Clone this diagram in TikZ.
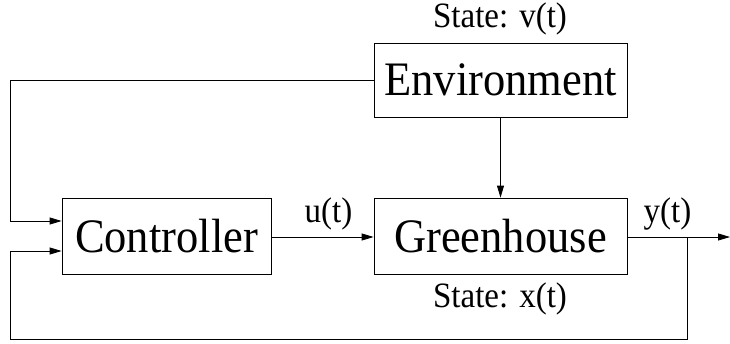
\documentclass[tikz,border=0pt]{standalone}
\usepackage{graphicx}
\usepackage{fontspec}
\setmainfont{Liberation Serif}
\usetikzlibrary{arrows.meta}
% slightly tall lettering
\newcommand{\tallbig}[1]{\scalebox{1}[1.08]{\fontsize{44.5}{44.5}\selectfont #1}}
\newcommand{\tallsig}[1]{\scalebox{1}[1.08]{\fontsize{33}{33}\selectfont #1}}
\begin{document}
\begin{tikzpicture}[x=1pt,y=-1pt,
  blockbox/.style={draw,line width=0.8pt,inner sep=0pt},
  wire/.style={line width=0.8pt},
  arr/.style={wire,-{Triangle[length=12pt,width=7pt]}},
  sig/.style={anchor=base,inner sep=0pt}]
\useasboundingbox (0,0) rectangle (730,343);
% blocks
\node[blockbox,minimum width=253pt,minimum height=74pt] (env) at (500.5,80) {\tallbig{Environment}};
\node[blockbox,minimum width=209pt,minimum height=76pt] (ctrl) at (166.5,236) {\tallbig{Controller}};
\node[blockbox,minimum width=253pt,minimum height=76pt] (gh) at (500.5,236) {\tallbig{Greenhouse}};
% labels
\node[sig] (vlab) at (500,27) {\tallsig{State: v(t)}};
\node[sig] (xlab) at (500,307) {\tallsig{State: x(t)}};
\node[sig] (ulab) at (328.5,222) {\tallsig{u(t)}};
\node[sig] (ylab) at (667.5,222) {\tallsig{y(t)}};
% helper points
\coordinate (out) at (730,237);
\coordinate (br) at (687,237);
\coordinate (envL) at (10,80);
\coordinate (fbL) at (10,339);
% connectors
\draw[arr] (env.south) -- (gh.north);
\draw[arr] (ctrl.east |- 0,237) -- (gh.west |- 0,237);
\draw[arr] (gh.east |- 0,237) -- (out);
\draw[arr] (env.west) -- (envL) -- (10,221) -- (ctrl.west |- 0,221);
\draw[arr] (br) -- (687,339) -- (fbL) -- (10,251) -- (ctrl.west |- 0,251);
\end{tikzpicture}
\end{document}
